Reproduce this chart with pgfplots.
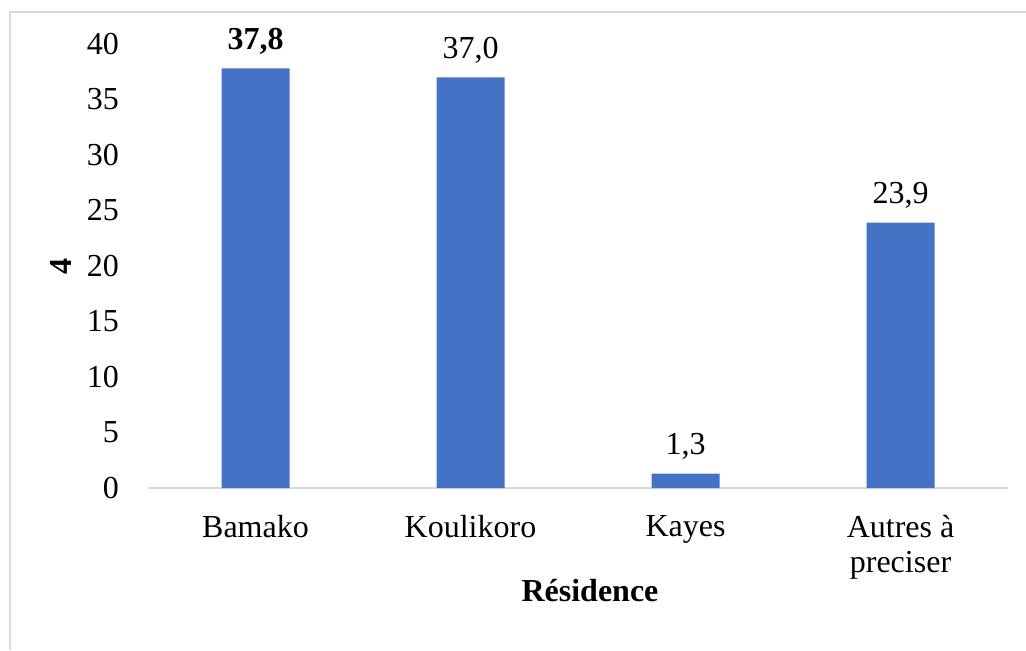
\documentclass[border=0pt]{standalone}
\usepackage{pgfplots}
\pgfplotsset{compat=1.18}
\usepackage{fontspec}
\setmainfont{Liberation Serif}
\definecolor{barblue}{HTML}{4472C4}
\definecolor{framegray}{HTML}{D9D9D9}
\begin{document}
\fontsize{16}{19}\selectfont
\begin{tikzpicture}
\path[use as bounding box] (0,0) rectangle (513pt,325pt);
\draw[framegray, line width=0.8pt] (5pt,0) -- (5pt,319pt) -- (513pt,319pt);
\begin{axis}[
  at={(74pt,81pt)}, anchor=south west,
  scale only axis,
  width=430pt, height=222pt,
  xmin=-0.5, xmax=3.5,
  ymin=0, ymax=40,
  ytick={0,5,...,40},
  xtick=data,
  xticklabels={Bamako,Koulikoro,Kayes,{Autres à\\preciser}},
  xticklabel style={align=center, font=\fontsize{16}{17.5}\selectfont, yshift=-8pt},
  yticklabel style={font=\fontsize{16}{19}\selectfont, xshift=-9pt},
  /pgf/number format/assume math mode=true,
  major tick length=0pt,
  axis x line*=bottom,
  axis y line*=left,
  y axis line style={draw=none},
  x axis line style={framegray, line width=1pt, -},
  ylabel={\textbf{4}},
  ylabel style={font=\fontsize{16}{19}\selectfont, yshift=-3pt},
  xlabel={\textbf{Résidence}},
  xlabel style={font=\fontsize{16}{19}\selectfont, xshift=6pt, yshift=11pt},
  ybar, bar width=34pt,
  point meta=explicit symbolic,
  nodes near coords={\pgfplotspointmeta},
  nodes near coords style={font=\fontsize{16}{19}\selectfont, black, yshift=1.5pt},
  clip=false,
]
\addplot[fill=barblue, draw=none] coordinates {
  (0,37.8) [\textbf{37,8}]
  (1,37.0) [37,0]
  (2,1.3) [1,3]
  (3,23.9) [23,9]
};
\end{axis}
\end{tikzpicture}
\end{document}
